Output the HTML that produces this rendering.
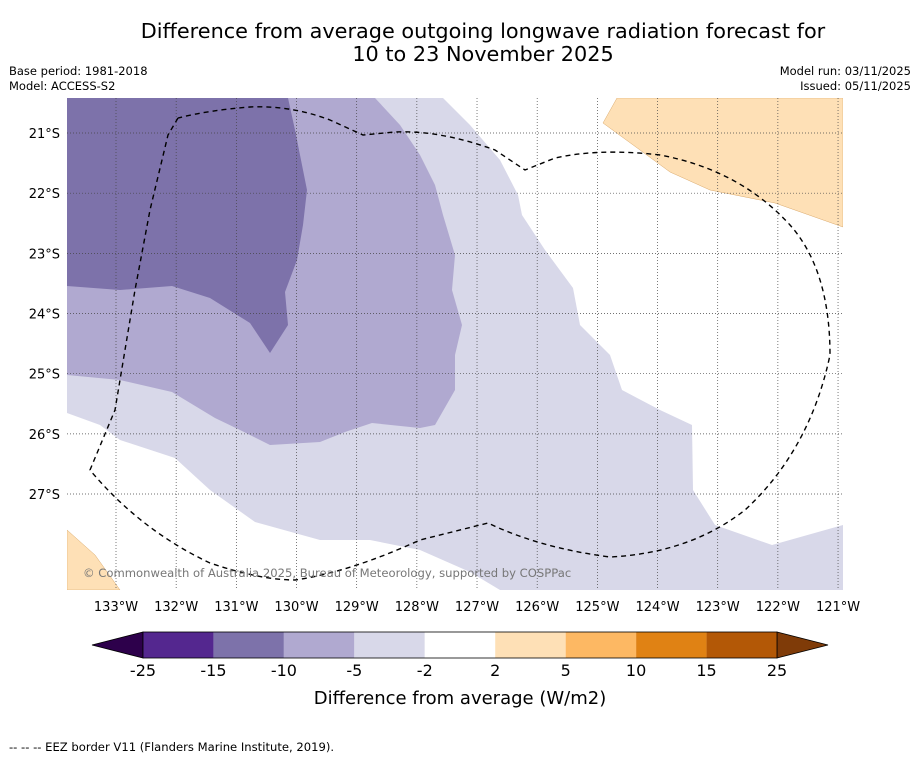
<!DOCTYPE html>
<html><head><meta charset="utf-8">
<style>
body{margin:0;background:#fff;font-family:"Liberation Sans","DejaVu Sans",sans-serif;}
svg text{font-family:"DejaVu Sans","Liberation Sans",sans-serif;}
</style></head>
<body>
<svg width="919" height="758" viewBox="0 0 919 758" xmlns="http://www.w3.org/2000/svg">
<text x="483" y="38" font-size="20.8" text-anchor="middle">Difference from average outgoing longwave radiation forecast for</text>
<text x="483" y="61" font-size="20.8" text-anchor="middle">10 to 23 November 2025</text>
<text x="9" y="75" font-size="11.5">Base period: 1981-2018</text>
<text x="9" y="90" font-size="11.5">Model: ACCESS-S2</text>
<text x="911" y="75" font-size="11.5" text-anchor="end">Model run: 03/11/2025</text>
<text x="911" y="90" font-size="11.5" text-anchor="end">Issued: 05/11/2025</text>

<g>
<clipPath id="c"><rect x="67" y="98" width="776" height="492"/></clipPath>
<g clip-path="url(#c)">
<polygon fill="#d8d8e9" points="67,98 443,98 470,125 500,160 518,195 522,215 545,250 573,288 580,325 610,355 622,390 660,410 692,425 693,490 715,525 772,545 843,525 843,590 500,590 470,572 420,550 370,540 320,540 255,522 210,490 175,458 120,440 100,425 67,413"/>
<polygon fill="#b0a9d0" points="67,98 375,98 400,125 420,155 435,185 443,215 455,255 452,290 462,325 455,355 455,390 435,425 420,428 372,423 345,432 320,442 270,445 240,430 215,418 172,392 120,380 67,375"/>
<polygon fill="#7d72aa" points="67,98 288,98 295,130 307,190 303,225 297,260 285,292 288,325 270,353 250,323 210,298 172,286 120,290 67,286"/>
<polygon fill="#fee0b6" stroke="#d9a86a" stroke-width="0.5" points="617,98 843,98 843,227 775,203 710,190 670,172 640,150 603,123"/>
<polygon fill="#fee0b6" stroke="#d9a86a" stroke-width="0.5" points="67,530 95,555 120,590 67,590"/>
</g>
<g id="grid" stroke="#444" stroke-width="0.7" stroke-dasharray="1,2"></g>
<path fill="none" stroke="#000" stroke-width="1.4" stroke-dasharray="5,4" d="M178,118 L168,135 L150,210 L135,290 L115,410 L90,470 Q140,530 210,563 Q260,580 295,580 Q350,572 420,540 L488,523 Q540,548 610,557 Q690,553 745,510 Q810,450 830,355 Q830,270 790,225 Q740,170 660,155 Q600,148 555,158 L525,170 L495,150 Q440,130 395,132 L363,135 L330,120 Q290,105 250,107 Q210,110 178,118"/>
<text x="83" y="577" font-size="11.6" fill="#777">© Commonwealth of Australia 2025, Bureau of Meteorology, supported by COSPPac</text>
<g id="axes"></g>
</g>

<g id="cbar"></g>
<text x="460" y="704" font-size="18" text-anchor="middle">Difference from average (W/m2)</text>
<text x="9" y="751" font-size="11.6">--  --  -- EEZ border V11 (Flanders Marine Institute, 2019).</text>
</svg>
<script>
const lonTicks=[133,132,131,130,129,128,127,126,125,124,123,122,121];
const latTicks=[21,22,23,24,25,26,27];
const cbarBounds=[-25,-15,-10,-5,-2,2,5,10,15,25];
const cbarColors=['#54278f','#7d72aa','#b0a9d0','#d8d8e9','#ffffff','#fee0b6','#fdb863','#e08214','#b35806'];
const NS='http://www.w3.org/2000/svg';
function lonX(l){return 116+(133-l)*60.17;}
function latY(l){return 133+(l-21)*60.17;}
const g=document.getElementById('grid'),ax=document.getElementById('axes');
function mk(t,a,p){const e=document.createElementNS(NS,t);for(const k in a)e.setAttribute(k,a[k]);p.appendChild(e);return e;}
lonTicks.forEach(l=>{const x=lonX(l);
 const ln=mk('line',{x1:x,y1:98,x2:x,y2:590},g);
 
 
 const t=mk('text',{x:x,y:611,'font-size':13,'text-anchor':'middle'},ax);t.textContent=l+'°W';
 
 });
latTicks.forEach(l=>{const y=latY(l);
 const ln=mk('line',{x1:67,y1:y,x2:843,y2:y},g);
 
 
 const t=mk('text',{x:60,y:y+5,'font-size':13,'text-anchor':'end'},ax);t.textContent=l+'°S';
 
 });
const cb=document.getElementById('cbar');
const x0=143,w=(777-143)/cbarColors.length,y0=632,h=26;
const lt=mk('polygon',{points:`${x0},${y0} 92,${y0+h/2} ${x0},${y0+h}`,fill:'#2d004b',stroke:'#000','stroke-width':0.8},cb);


const rt=mk('polygon',{points:`777,${y0} 828,${y0+h/2} 777,${y0+h}`,fill:'#7f3b08',stroke:'#000','stroke-width':0.8},cb);


cbarColors.forEach((c,i)=>{const r=mk('rect',{x:x0+i*w,y:y0,width:w,height:h,fill:c},cb);
 
 });
mk('rect',{x:x0,y:y0,width:777-x0,height:h,fill:'none',stroke:'#000','stroke-width':0.8},cb);
cbarBounds.forEach((b,i)=>{const t=mk('text',{x:x0+i*w,y:676,'font-size':16,'text-anchor':'middle'},cb);t.textContent=b;
 
 });
</script>
</body></html>
